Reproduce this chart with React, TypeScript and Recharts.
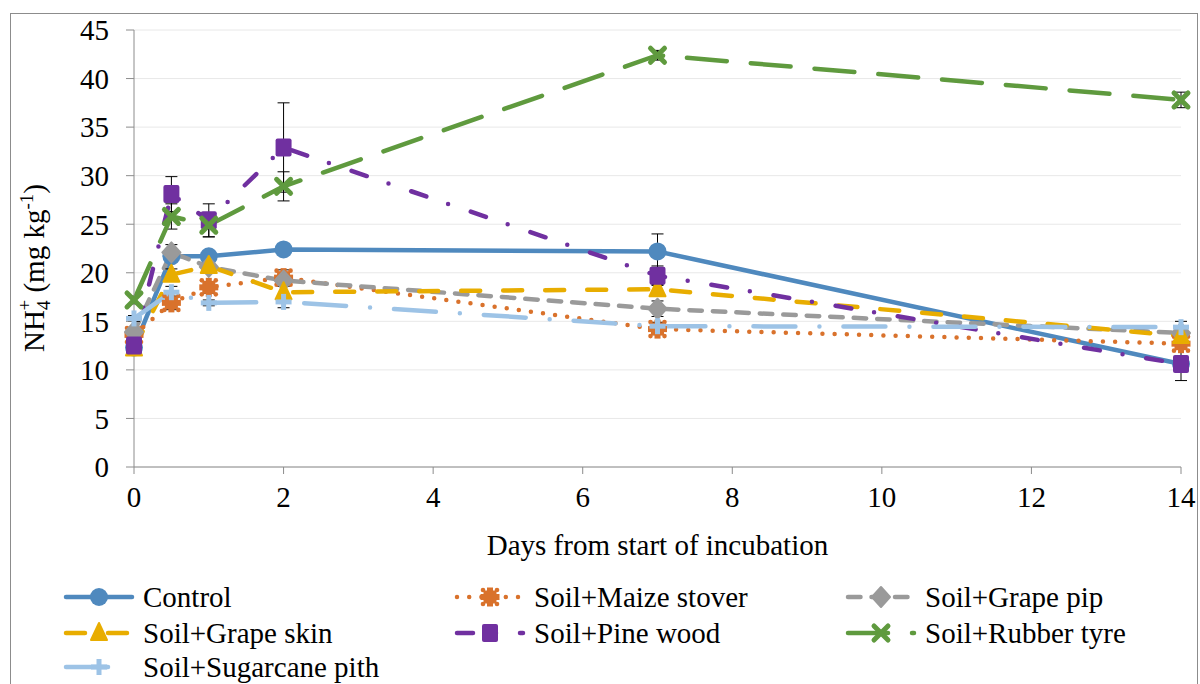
import { CartesianGrid, ErrorBar, Legend, Line, LineChart, XAxis, YAxis } from "recharts";

const days = [0, 0.5, 1, 2, 7, 14];

const control = [12.3, 21.7, 21.7, 22.4, 22.2, 10.6];
const maizeStover = [13.6, 16.9, 18.5, 19.5, 14.2, 12.7];
const grapePip = [13.9, 22.1, 20.6, 19.2, 16.3, 13.8];
const grapeSkin = [12.2, 19.8, 20.7, 18.0, 18.3, 13.5];
const pineWood = [12.5, 28.1, 25.4, 32.9, 19.7, 10.6];
const rubberTyre = [17.2, 25.8, 24.9, 28.9, 42.4, 37.8];
const sugarcanePith = [15.3, 18.0, 16.9, 17.0, 14.5, 14.4];

// standard errors
const controlErr = [0.4, 0.4, 0.4, 0.4, 1.8, 0.5];
const maizeStoverErr = [0.3, 0.7, 0.6, 0.8, 0.5, 0.4];
const grapePipErr = [0.3, 0.8, 0.5, 0.6, 0.8, 0.4];
const grapeSkinErr = [0.3, 0.6, 0.6, 0.6, 0.5, 0.5];
const pineWoodErr = [0.4, 1.8, 1.7, 4.6, 1.0, 1.7];
const rubberTyreErr = [0.4, 1.3, 1.2, 1.5, 0.5, 0.8];
const sugarcanePithErr = [0.3, 0.6, 0.3, 0.6, 0.4, 0.6];

const xTicks = [0, 2, 4, 6, 8, 10, 12, 14];
const yTicks = [0, 5, 10, 15, 20, 25, 30, 35, 40, 45];

const FONT = "Liberation Serif, DejaVu Serif, serif";
const FS = 29;
const AXIS = "#8c8c8c";

type MarkerKind = "circle" | "star" | "diamond" | "triangle" | "square" | "cross" | "plus";

const series = [
  { key: "control", name: "Control", values: control, err: controlErr, color: "#4f89be", dash: undefined, marker: "circle" as MarkerKind },
  { key: "maize", name: "Soil+Maize stover", values: maizeStover, err: maizeStoverErr, color: "#d9722c", dash: "0 12.2", marker: "star" as MarkerKind },
  { key: "pip", name: "Soil+Grape pip", values: grapePip, err: grapePipErr, color: "#9a9a9a", dash: "12.5 11", marker: "diamond" as MarkerKind },
  { key: "skin", name: "Soil+Grape skin", values: grapeSkin, err: grapeSkinErr, color: "#e8ad00", dash: "19 23", marker: "triangle" as MarkerKind },
  { key: "pine", name: "Soil+Pine wood", values: pineWood, err: pineWoodErr, color: "#7030a0", dash: "16 23 0 24", marker: "square" as MarkerKind },
  { key: "tyre", name: "Soil+Rubber tyre", values: rubberTyre, err: rubberTyreErr, color: "#5f9a3e", dash: "40 24", marker: "cross" as MarkerKind },
  { key: "sugar", name: "Soil+Sugarcane pith", values: sugarcanePith, err: sugarcanePithErr, color: "#9dc3e6", dash: "42 24 0 24", marker: "plus" as MarkerKind },
];

const rows = days.map((day, i) => {
  const row: Record<string, number> = { day };
  series.forEach((s) => {
    row[s.key] = s.values[i];
    row[s.key + "Err"] = s.err[i];
  });
  return row;
});

function Marker({ kind, cx, cy, color }: { kind: MarkerKind; cx: number; cy: number; color: string }) {
  switch (kind) {
    case "circle":
      return <circle cx={cx} cy={cy} r={9} fill={color} />;
    case "square":
      return <rect x={cx - 8} y={cy - 9} width={16} height={18} rx={2} fill={color} />;
    case "diamond":
      return (
        <path
          d={`M${cx},${cy - 10} L${cx + 9},${cy} L${cx},${cy + 10} L${cx - 9},${cy} Z`}
          fill={color}
          stroke={color}
          strokeWidth={2}
          strokeLinejoin="round"
        />
      );
    case "triangle":
      return (
        <path
          d={`M${cx},${cy - 10} L${cx + 8},${cy + 7} L${cx - 8},${cy + 7} Z`}
          fill={color}
          stroke={color}
          strokeWidth={2}
          strokeLinejoin="round"
        />
      );
    case "cross":
      return (
        <g stroke={color} strokeWidth={5} strokeLinecap="round">
          <line x1={cx - 7} y1={cy - 7} x2={cx + 7} y2={cy + 7} />
          <line x1={cx - 7} y1={cy + 7} x2={cx + 7} y2={cy - 7} />
        </g>
      );
    case "plus":
      return (
        <g stroke={color} strokeWidth={5}>
          <line x1={cx - 8} y1={cy} x2={cx + 8} y2={cy} />
          <line x1={cx} y1={cy - 8} x2={cx} y2={cy + 8} />
        </g>
      );
    case "star":
      return (
        <g fill={color}>
          <rect x={cx - 6.5} y={cy - 6.5} width={13} height={13} />
          <rect x={cx - 3} y={cy - 9.5} width={6} height={19} />
          <rect x={cx - 9.5} y={cy - 3} width={19} height={6} />
          <circle cx={cx - 7} cy={cy - 7} r={2.3} />
          <circle cx={cx + 7} cy={cy - 7} r={2.3} />
          <circle cx={cx - 7} cy={cy + 7} r={2.3} />
          <circle cx={cx + 7} cy={cy + 7} r={2.3} />
        </g>
      );
  }
  return null;
}

const legendTextX = [143, 534, 925];
const legendRowY = [40, 76, 110];

function LegendBox() {
  return (
    <svg width={1200} height={127} style={{ display: "block" }}>
      {series.map((s, i) => {
        const tx = legendTextX[i % 3];
        const y = legendRowY[Math.floor(i / 3)];
        const x1 = tx - 77;
        const x2 = tx - 11;
        return (
          <g key={s.key}>
            <line
              x1={x1}
              y1={y}
              x2={x2}
              y2={y}
              stroke={s.color}
              strokeWidth={4.5}
              strokeLinecap="round"
              strokeDasharray={s.dash}
            />
            <Marker kind={s.marker} cx={(x1 + x2) / 2} cy={y} color={s.color} />
            <text x={tx} y={y + 10} style={{ fontFamily: FONT }} fontSize={FS} fill="#000">
              {s.name}
            </text>
          </g>
        );
      })}
    </svg>
  );
}

function YTitle() {
  return (
    <text
      transform="translate(44,268) rotate(-90)"
      textAnchor="middle"
      style={{ fontFamily: FONT }}
      fontSize={FS}
      fill="#000"
    >
      NH
      <tspan fontSize={19} dy={6}>4</tspan>
      <tspan fontSize={19} dx={-10} dy={-19}>+</tspan>
      <tspan dy={13}> (mg kg</tspan>
      <tspan fontSize={19} dy={-11}>-1</tspan>
      <tspan dy={11}>)</tspan>
    </text>
  );
}

function XTitle(props: any) {
  const vb = props.viewBox || {};
  return (
    <text
      x={vb.x + vb.width / 2}
      y={555}
      textAnchor="middle"
      style={{ fontFamily: FONT }}
      fontSize={FS}
      fill="#000"
    >
      Days from start of incubation
    </text>
  );
}

export default function App() {
  const tick = { fontFamily: FONT, fontSize: FS, fill: "#000", style: { fontFamily: FONT } };
  return (
    <div
      style={{
        position: "fixed",
        left: 0,
        top: 0,
        width: 1200,
        height: 684,
        overflow: "hidden",
        background: "#fff",
        fontFamily: FONT,
      }}
    >
      <div
        style={{
          position: "absolute",
          left: 10,
          top: 13,
          width: 1186,
          height: 700,
          border: `1px solid ${AXIS}`,
        }}
      />
      <div style={{ position: "absolute", left: 0, top: 0 }}>
        <LineChart
          width={1200}
          height={684}
          data={rows}
          margin={{ top: 30, right: 19, bottom: 0, left: 0 }}
          style={{ fontFamily: FONT }}
        >
          <CartesianGrid vertical={false} stroke="#e8e8e8" />
          <XAxis
            dataKey="day"
            type="number"
            domain={[0, 14]}
            ticks={xTicks}
            height={90}
            stroke={AXIS}
            tickSize={7}
            tickMargin={12}
            tick={tick}
            label={{ content: (p: any) => <XTitle {...p} /> }}
          />
          <YAxis
            type="number"
            domain={[0, 45]}
            ticks={yTicks}
            width={134}
            stroke={AXIS}
            tickSize={8}
            tickMargin={17}
            tick={tick}
            label={{ content: () => <YTitle /> }}
          />
          <Legend
            verticalAlign="bottom"
            content={() => <LegendBox />}
            wrapperStyle={{ left: 0, width: 1200, height: 127 }}
          />
          {series.map((s) => (
            <Line
              key={s.key}
              dataKey={s.key}
              name={s.name}
              type="linear"
              stroke={s.color}
              strokeWidth={4.5}
              strokeLinecap="round"
              strokeDasharray={s.dash}
              isAnimationActive={false}
              dot={(p: any) => <Marker key={`${s.key}-${p.index}`} kind={s.marker} cx={p.cx} cy={p.cy} color={s.color} />}
              activeDot={false}
            >
              <ErrorBar dataKey={s.key + "Err"} direction="y" width={6} stroke="#000" strokeWidth={1} />
            </Line>
          ))}
        </LineChart>
      </div>
    </div>
  );
}
